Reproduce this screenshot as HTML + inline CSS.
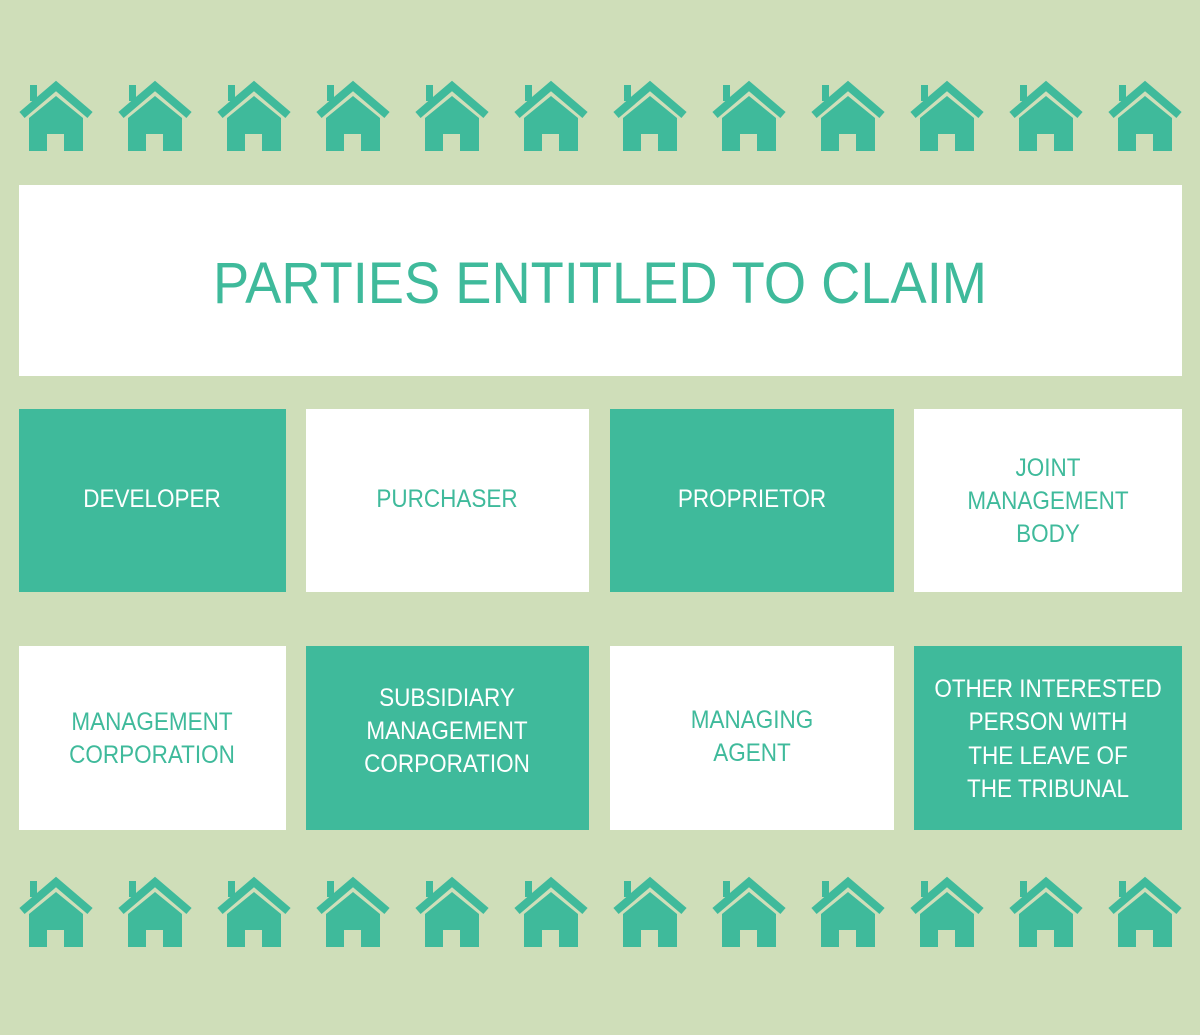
<!DOCTYPE html>
<html><head><meta charset="utf-8"><style>html,body{margin:0;padding:0;background:#cfdeb9}svg{display:block}</style></head>
<body>
<svg width="1200" height="1035" viewBox="0 0 1200 1035" xmlns="http://www.w3.org/2000/svg" font-family="Liberation Sans, sans-serif">
<defs>
<g id="h">
<rect x="11" y="5" width="7" height="16" fill="#3fba9b"/>
<polyline points="3,35 37,6 71,35" fill="none" stroke="#3fba9b" stroke-width="8"/>
<polygon points="10,38 37,16 64,38 64,71 45,71 45,54 28,54 28,71 10,71" fill="#3fba9b"/>
</g>
</defs>
<rect width="1200" height="1035" fill="#cfdeb9"/>
<g id="row">
<use href="#h" x="19" y="80"/><use href="#h" x="118" y="80"/><use href="#h" x="217" y="80"/><use href="#h" x="316" y="80"/><use href="#h" x="415" y="80"/><use href="#h" x="514" y="80"/><use href="#h" x="613" y="80"/><use href="#h" x="712" y="80"/><use href="#h" x="811" y="80"/><use href="#h" x="910" y="80"/><use href="#h" x="1009" y="80"/><use href="#h" x="1108" y="80"/>
</g>
<use href="#row" y="796"/>
<rect x="19" y="185" width="1163" height="191" fill="#fff"/>
<text x="213" y="303" font-size="58" fill="#3fba9b" textLength="774" lengthAdjust="spacingAndGlyphs">PARTIES ENTITLED TO CLAIM</text>
<rect x="19" y="409" width="267" height="183" fill="#3fba9b"/>
<rect x="306" y="409" width="283" height="183" fill="#fff"/>
<rect x="610" y="409" width="284" height="183" fill="#3fba9b"/>
<rect x="914" y="409" width="268" height="183" fill="#fff"/>
<rect x="19" y="646" width="267" height="184" fill="#fff"/>
<rect x="306" y="646" width="283" height="184" fill="#3fba9b"/>
<rect x="610" y="646" width="284" height="184" fill="#fff"/>
<rect x="914" y="646" width="268" height="184" fill="#3fba9b"/>
<g font-size="25" text-anchor="middle">
<g transform="translate(152,0) scale(0.9,1)" fill="#fff"><text x="0" y="507">DEVELOPER</text></g>
<g transform="translate(447,0) scale(0.9,1)" fill="#3fba9b"><text x="0" y="507">PURCHASER</text></g>
<g transform="translate(752,0) scale(0.9,1)" fill="#fff"><text x="0" y="507">PROPRIETOR</text></g>
<g transform="translate(1048,0) scale(0.9,1)" fill="#3fba9b"><text x="0" y="476">JOINT</text><text x="0" y="509">MANAGEMENT</text><text x="0" y="542">BODY</text></g>
<g transform="translate(152,0) scale(0.9,1)" fill="#3fba9b"><text x="0" y="730">MANAGEMENT</text><text x="0" y="763">CORPORATION</text></g>
<g transform="translate(447,0) scale(0.9,1)" fill="#fff"><text x="0" y="706">SUBSIDIARY</text><text x="0" y="739">MANAGEMENT</text><text x="0" y="772">CORPORATION</text></g>
<g transform="translate(752,0) scale(0.9,1)" fill="#3fba9b"><text x="0" y="728">MANAGING</text><text x="0" y="761">AGENT</text></g>
<g transform="translate(1048,0) scale(0.9,1)" fill="#fff"><text x="0" y="697">OTHER INTERESTED</text><text x="0" y="730">PERSON WITH</text><text x="0" y="764">THE LEAVE OF</text><text x="0" y="797">THE TRIBUNAL</text></g>
</g>
</svg>
</body></html>
